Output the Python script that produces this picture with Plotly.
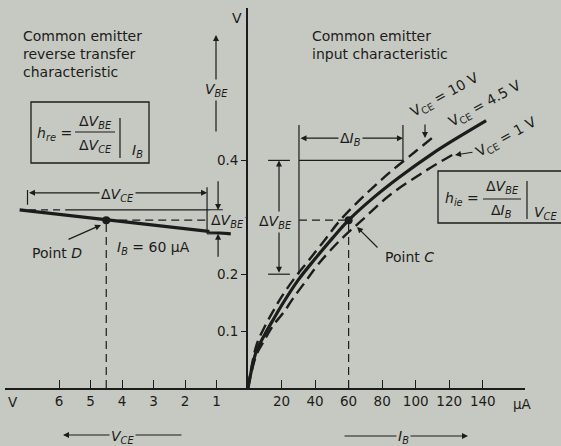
import plotly.graph_objects as go

W, H = 561, 446
BG = "#c6c9c1"
INK = "#1c1c1c"
FONT = "DejaVu Sans"

# ---- input characteristic: base current (µA) -> base-emitter voltage (V) ----
ib_vce10 = [0, 5, 10, 15, 20, 27, 35, 45, 55, 70, 85, 100, 110]
vbe_vce10 = [0, 0.075, 0.108, 0.135, 0.160, 0.190, 0.220, 0.257, 0.295, 0.340, 0.380, 0.416, 0.440]

ib_vce45 = [0, 5, 10, 15, 20, 30, 40, 50, 60, 75, 90, 110, 125, 142]
vbe_vce45 = [0, 0.065, 0.094, 0.120, 0.145, 0.190, 0.227, 0.262, 0.295, 0.335, 0.370, 0.412, 0.440, 0.470]

ib_vce1 = [0, 5, 10, 15, 21, 27, 35, 42, 55, 68, 85, 105, 122]
vbe_vce1 = [0, 0.058, 0.085, 0.110, 0.132, 0.158, 0.190, 0.218, 0.260, 0.295, 0.340, 0.380, 0.410]

# ---- reverse transfer characteristic at I_B = 60 µA: V_CE (V) -> V_BE (V) ----
vce_ib60 = [7.25, 0.55]
vbe_ib60 = [0.313, 0.271]

# operating point (Point C on the input curve, Point D on the transfer line)
q_ib, q_vce, q_vbe = 60, 4.5, 0.295

# increments used for h_ie and h_re
dib_from, dib_to = 30.4, 92.4
dvbe_lo, dvbe_hi = 0.2, 0.4
dvce_from, dvce_to = 7.0, 1.3

ib_ticks = [20, 40, 60, 80, 100, 120, 140]
vce_ticks = [1, 2, 3, 4, 5, 6]
vbe_ticks = [0.1, 0.2, 0.3, 0.4]
vbe_ticktext = ["0.1", "0.2", "", "0.4"]

# ---- canvas geometry (pixels) and scale factors ----
OX, OY = 248, 388          # origin of both characteristics
X_RIGHT, X_LEFT, Y_TOP = 525, 5, 8
PX_PER_UA, PX_PER_VCE, PX_PER_VBE = 1.677, 31.5, 569


def paper(x, y):
    return x / W, 1 - y / H


fig = go.Figure()

dash_curve = "12px,6px"
fig.add_trace(go.Scatter(x=ib_vce10, y=vbe_vce10, mode="lines", line_shape="spline",
                         line=dict(color=INK, width=2.4, dash=dash_curve)))
fig.add_trace(go.Scatter(x=ib_vce45, y=vbe_vce45, mode="lines", line_shape="spline",
                         line=dict(color=INK, width=3.2)))
fig.add_trace(go.Scatter(x=ib_vce1, y=vbe_vce1, mode="lines", line_shape="spline",
                         line=dict(color=INK, width=2.4, dash=dash_curve)))
fig.add_trace(go.Scatter(x=vce_ib60, y=vbe_ib60, xaxis="x2", yaxis="y", mode="lines",
                         line=dict(color=INK, width=3.2)))
fig.add_trace(go.Scatter(x=[q_ib], y=[q_vbe], mode="markers",
                         marker=dict(color=INK, size=8)))
fig.add_trace(go.Scatter(x=[q_vce], y=[q_vbe], xaxis="x2", yaxis="y", mode="markers",
                         marker=dict(color=INK, size=8)))

shapes = []
ann = []


def seg(xr, x0, y0, x1, y1, dash="solid", width=1.2):
    shapes.append(dict(type="line", xref=xr, yref="y", x0=x0, y0=y0, x1=x1, y1=y1,
                       line=dict(color=INK, width=width, dash=dash)))


def pseg(x0, y0, x1, y1, width=1.2):
    a, b = paper(x0, y0)
    c, d = paper(x1, y1)
    shapes.append(dict(type="line", xref="paper", yref="paper", x0=a, y0=b, x1=c, y1=d,
                       line=dict(color=INK, width=width)))


def prect(x0, y0, x1, y1):
    a, b = paper(x0, y0)
    c, d = paper(x1, y1)
    shapes.append(dict(type="rect", xref="paper", yref="paper", x0=a, y0=b, x1=c, y1=d,
                       line=dict(color=INK, width=1.3)))


def arrow(xr, x0, y0, x1, y1, both=False):
    ann.append(dict(x=x1, y=y1, ax=x0, ay=y0, xref=xr, yref="y", axref=xr, ayref="y",
                    text="", showarrow=True, arrowhead=2, arrowsize=1, arrowwidth=1.2,
                    arrowcolor=INK, arrowside="end+start" if both else "end", standoff=0,
                    startstandoff=0))


def parrow(x0, y0, x1, y1, both=False):
    a, b = paper(x1, y1)
    ann.append(dict(x=a, y=b, xref="paper", yref="paper", ax=x0 - x1, ay=y0 - y1,
                    text="", showarrow=True, arrowhead=2, arrowsize=1, arrowwidth=1.2,
                    arrowcolor=INK, arrowside="end+start" if both else "end", standoff=0))


def label(x, y, text, size=14, mask=False, **kw):
    a, b = paper(x, y)
    d = dict(x=a, y=b, xref="paper", yref="paper", text=text, showarrow=False,
             xanchor="center", yanchor="middle",
             font=dict(family=FONT, size=size, color=INK))
    if mask:
        d.update(bgcolor=BG, borderpad=1)
    d.update(kw)
    ann.append(d)


thin_dash = "8px,5px"

# h_ie construction on the input characteristic
seg("x", q_ib, 0, q_ib, q_vbe, dash=thin_dash)
seg("x", dib_from, q_vbe, q_ib, q_vbe, dash=thin_dash)
seg("x", dib_from, dvbe_lo, dib_from, 0.462)
seg("x", dib_from, dvbe_hi, dib_to, dvbe_hi)
seg("x", dib_to, dvbe_hi, dib_to, 0.462)
seg("x", 12, dvbe_hi, 25, dvbe_hi)
seg("x", 12, dvbe_lo, 25, dvbe_lo)
arrow("x", 18.5, dvbe_lo, 18.5, dvbe_hi, both=True)
arrow("x", dib_from, 0.439, dib_to, 0.439, both=True)

# h_re construction on the reverse transfer characteristic
seg("x2", q_vce, 0, q_vce, q_vbe, dash=thin_dash)
seg("x2", q_vce, q_vbe, dvce_to, q_vbe, dash=thin_dash)
seg("x2", 6.95, vbe_ib60[0], 5.8, vbe_ib60[0], dash="7px,5px")
seg("x2", 5.8, vbe_ib60[0], 0.8, vbe_ib60[0])
seg("x2", dvce_to, 0.353, dvce_to, vbe_ib60[1])
seg("x2", dvce_from, 0.322, dvce_from, 0.348)
seg("x2", dvce_to, vbe_ib60[1], vce_ib60[1], vbe_ib60[1])
arrow("x2", dvce_from, 0.343, dvce_to, 0.343, both=True)
arrow("x2", 0.95, 0.366, 0.95, vbe_ib60[0])
arrow("x2", 0.95, 0.228, 0.95, vbe_ib60[1])

# parameter boxes
prect(31, 102, 149, 163)
pseg(75, 132, 115, 132)
pseg(120, 118, 120, 158)
prect(438, 171, 566, 223)
pseg(483, 199, 521, 199)
pseg(527, 181, 527, 219)

# pointer arrows
parrow(216, 133, 216, 35)
parrow(183, 435, 63, 435)
parrow(343, 436, 468, 436)
parrow(67, 240, 101, 225)
parrow(379, 249, 357, 227)
parrow(425, 123, 425, 138)
parrow(474, 152, 455, 155)

# text
label(21, 26, "Common emitter<br>reverse transfer<br>characteristic", xanchor="left", yanchor="top", align="left")
label(310, 26, "Common emitter<br>input characteristic", xanchor="left", yanchor="top", align="left")
label(237, 18, "V")
label(13, 402, "V", size=13.5)
label(522, 404, "µA", size=13.5)
label(216, 90, "<i>V</i><sub><i>BE</i></sub>", mask=True)
label(122, 437, "<i>V</i><sub><i>CE</i></sub>", mask=True)
label(403, 437, "<i>I</i><sub><i>B</i></sub>", mask=True)
label(117, 195, "Δ<i>V</i><sub><i>CE</i></sub>", mask=True)
label(350, 139, "Δ<i>I</i><sub><i>B</i></sub>", mask=True)
label(227, 221, "Δ<i>V</i><sub><i>BE</i></sub>", mask=True)
label(275, 222, "Δ<i>V</i><sub><i>BE</i></sub>", mask=True)
label(57, 253, "Point <i>D</i>")
label(153, 248, "<i>I</i><sub><i>B</i></sub> = 60 µA")
label(409, 257, "Point <i>C</i>")
label(445, 95, "V<sub>CE</sub> = 10 V", textangle=-29)
label(485, 104, "V<sub>CE</sub> = 4.5 V", textangle=-29)
label(507, 137, "V<sub>CE</sub> = 1 V", textangle=-29)
label(35, 134, "<i>h</i><sub><i>re</i></sub> =", xanchor="left")
label(95, 122, "Δ<i>V</i><sub><i>BE</i></sub>")
label(95, 146, "Δ<i>V</i><sub><i>CE</i></sub>")
label(137, 151, "<i>I</i><sub><i>B</i></sub>")
label(443, 199, "<i>h</i><sub><i>ie</i></sub> =", xanchor="left")
label(502, 187, "Δ<i>V</i><sub><i>BE</i></sub>")
label(501, 211, "Δ<i>I</i><sub><i>B</i></sub>")
label(545, 213, "<i>V</i><sub><i>CE</i></sub>")

axis_common = dict(showgrid=False, zeroline=False, showline=True, linecolor=INK,
                   linewidth=1.8, ticks="inside", ticklen=8, tickwidth=1.3, tickcolor=INK,
                   tickfont=dict(family=FONT, size=13.5, color=INK), anchor="y")

fig.update_layout(
    width=W, height=H, margin=dict(l=0, r=0, t=0, b=0),
    paper_bgcolor=BG, plot_bgcolor=BG, showlegend=False,
    font=dict(family=FONT, color=INK),
    xaxis=dict(domain=[OX / W, X_RIGHT / W], range=[0, (X_RIGHT - OX) / PX_PER_UA],
               tickvals=ib_ticks, **axis_common),
    xaxis2=dict(domain=[X_LEFT / W, OX / W], range=[(OX - X_LEFT) / PX_PER_VCE, 0],
                tickvals=vce_ticks, **axis_common),
    yaxis=dict(domain=[(H - OY) / H, (H - Y_TOP) / H], range=[0, (OY - Y_TOP) / PX_PER_VBE],
               anchor="x", side="left", showgrid=False, zeroline=False, showline=True,
               linecolor=INK, linewidth=1.8, ticks="outside", ticklen=5, tickwidth=1.3,
               tickcolor=INK, tickvals=vbe_ticks, ticktext=vbe_ticktext,
               tickfont=dict(family=FONT, size=13.5, color=INK)),
    shapes=shapes, annotations=ann,
)

fig.write_html("out.html")
